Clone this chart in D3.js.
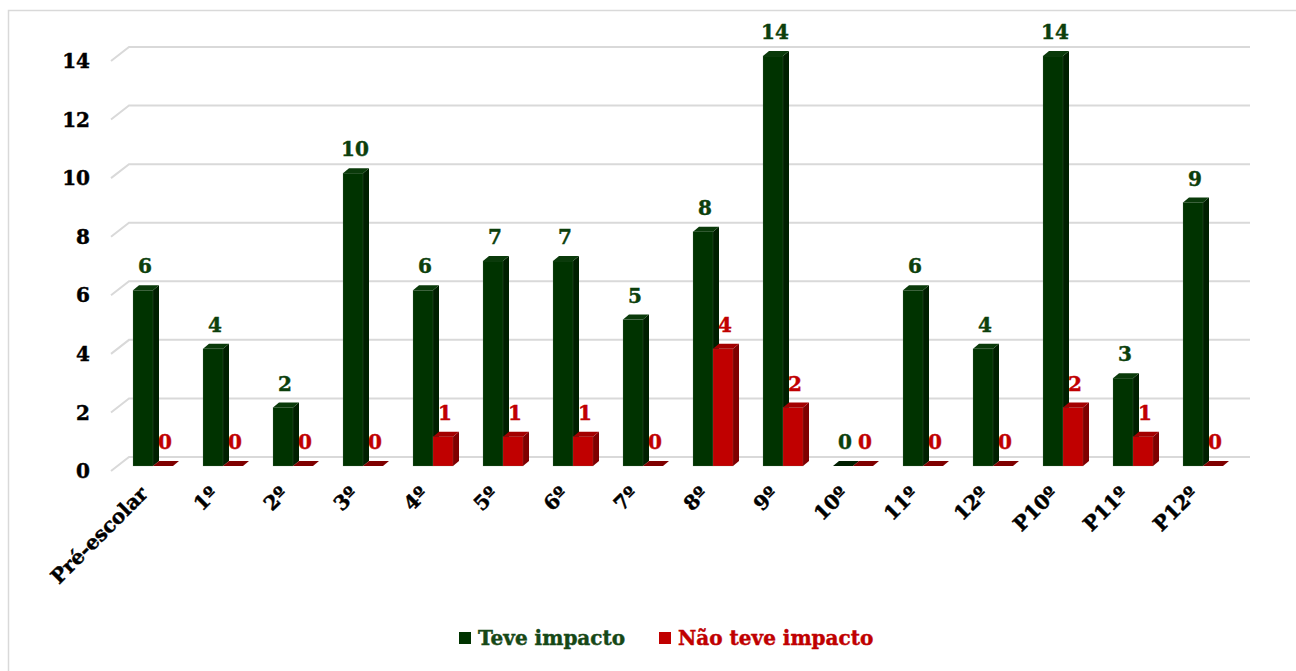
<!DOCTYPE html>
<html lang="pt">
<head>
  <meta charset="UTF-8">
  <title>Teve impacto / Não teve impacto</title>
  <script src="https://cdn.jsdelivr.net/npm/d3@7"></script>
  <style>
    body { margin:0; background:#fff; }
    svg { display:block; font-family:"DejaVu Serif", serif; font-weight:bold; }
    text { stroke-width:0.45px; paint-order:stroke; }
  </style>
</head>
<body>
  <svg id="chart" width="1296" height="671"></svg>

  <script>
  // dados
  const categories = ["Pré-escolar","1º","2º","3º","4º","5º","6º","7º","8º","9º","10º","11º","12º","P10º","P11º","P12º"];
  const series = ["Teve impacto","Não teve impacto"];
  const teveImpacto = [6,4,2,10,6,7,7,5,8,14,0,6,4,14,3,9];
  const naoTeveImpacto = [0,0,0,0,1,1,1,0,4,2,0,0,0,2,1,0];
  const yTicks = [0,2,4,6,8,10,12,14];

  const values = [teveImpacto, naoTeveImpacto];
  const colors = [
    { front:"#003300", side:"#001f00", top:"#0a3a0a", label:"#0c3f0c", legend:"#164816" },
    { front:"#c00000", side:"#7f0000", top:"#a30000", label:"#c00000", legend:"#c00000" }
  ];

  const svg = d3.select("#chart");

  // moldura
  svg.append("rect")
    .attr("x", 8.5).attr("y", 10.5)
    .attr("width", 1300).attr("height", 700)
    .attr("fill", "none").attr("stroke", "#d9d9d9").attr("stroke-width", 1.5);

  const x = d3.scaleBand().domain(categories).range([118, 1238]);
  const xs = d3.scaleBand().domain(series).range([15, 55]);
  const y = d3.scaleLinear().domain([0, 14]).range([466, 56]);

  // profundidade 3D
  const wallDx = 11, wallDy = -9;   // parede de fundo
  const floorDx = -7, floorDy = 5;  // borda da frente
  const dx = 6, dy = -5;            // espessura das barras

  // grelha
  const grid = svg.append("g");
  yTicks.forEach(v => {
    const yb = y(v) + wallDy;
    grid.append("path")
      .attr("d", `M${118 + floorDx},${y(v) + floorDy} L${118 + wallDx},${yb} L${1238 + wallDx + 1},${yb}`)
      .attr("fill", "none")
      .attr("stroke", "#d9d9d9")
      .attr("stroke-width", 2);

    svg.append("text")
      .attr("x", 90)
      .attr("y", y(v) + floorDy)
      .attr("dy", "0.36em")
      .attr("text-anchor", "end")
      .attr("font-size", 20)
      .attr("fill", "#000").attr("stroke", "#000")
      .text(v);
  });

  // barras
  const bars = svg.append("g");
  categories.forEach((c, i) => {
    series.forEach((s, k) => {
      const v = values[k][i];
      const x0 = x(c) + xs(s), x1 = x0 + xs.bandwidth();
      const yt = y(v), yb = y(0);
      const col = colors[k];
      if (v > 0) {
        bars.append("path")
          .attr("d", `M${x1},${yb} L${x1 + dx},${yb + dy} L${x1 + dx},${yt + dy} L${x1},${yt}Z`)
          .attr("fill", col.side);
        bars.append("rect")
          .attr("x", x0).attr("y", yt)
          .attr("width", xs.bandwidth()).attr("height", yb - yt)
          .attr("fill", col.front)
          .attr("stroke", "rgba(120,140,120,0.35)").attr("stroke-width", 0.6);
      }
      bars.append("path")
        .attr("d", `M${x0},${yt} L${x0 + dx},${yt + dy} L${x1 + dx},${yt + dy} L${x1},${yt}Z`)
        .attr("fill", v > 0 ? col.top : col.side);
    });
  });

  // rótulos de dados
  categories.forEach((c, i) => {
    series.forEach((s, k) => {
      const v = values[k][i];
      svg.append("text")
        .attr("x", x(c) + xs(s) + xs.bandwidth() / 2 + 2)
        .attr("y", y(v) - 24)
        .attr("dy", "0.36em")
        .attr("text-anchor", "middle")
        .attr("font-size", 20)
        .attr("fill", colors[k].label).attr("stroke", colors[k].label)
        .text(v);
    });
  });

  // categorias
  categories.forEach(c => {
    const cx = x(c) + x.bandwidth() / 2 - 4;
    svg.append("text")
      .attr("transform", `translate(${cx},${495}) rotate(-45)`)
      .attr("text-anchor", "end")
      .attr("font-size", 20)
      .attr("fill", "#000").attr("stroke", "#000")
      .text(c);
  });

  // legenda
  const legend = svg.append("g").attr("transform", "translate(459,638)");
  const legX = [0, 200];
  series.forEach((s, k) => {
    legend.append("rect")
      .attr("x", legX[k]).attr("y", -6)
      .attr("width", 12).attr("height", 12)
      .attr("fill", colors[k].front);
    legend.append("text")
      .attr("x", legX[k] + 19)
      .attr("y", 0)
      .attr("dy", "0.36em")
      .attr("font-size", 20)
      .attr("fill", colors[k].legend).attr("stroke", colors[k].legend)
      .text(s);
  });
  </script>
</body>
</html>
